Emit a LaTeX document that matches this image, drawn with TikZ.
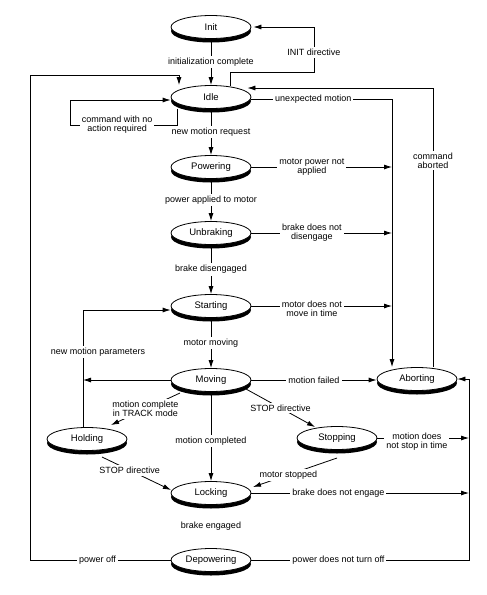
\documentclass[tikz,border=0pt]{standalone}
\usepackage{fontspec}
\setmainfont{Liberation Sans}
\usetikzlibrary{calc,shapes.geometric,shadows,arrows.meta}

\begin{document}
\begin{tikzpicture}[x=1pt,y=-1pt,line width=0.8pt,
    font=\fontsize{9}{9}\selectfont,
    state/.style={ellipse,draw,fill=white,minimum width=80pt,minimum height=23pt,inner sep=0pt,
        font=\fontsize{9.5}{10}\selectfont,
        drop shadow={shadow xshift=0pt,shadow yshift=-4pt,fill=black,opacity=1}},
    lbl/.style={fill=white,inner sep=2pt,align=center},
    arr/.style={-{Latex[length=8pt,width=5pt]}}]
    \useasboundingbox (0,0) rectangle (487,595);
    % Columns
    \def\xa{30}
    \def\xh{83}
    \def\xb{392}
    \def\xc{433}
    \def\xd{469}
    % States
    \node[state] (init) at (211,27) {Init};
    \node[state] (idle) at (211,97) {Idle};
    \node[state] (powering) at (211,167) {Powering};
    \node[state] (unbraking) at (211,233) {Unbraking};
    \node[state] (starting) at (211,306) {Starting};
    \node[state] (moving) at (211,380) {Moving};
    \node[state] (aborting) at (417,379) {Aborting};
    \node[state] (holding) at (87,439) {Holding};
    \node[state] (stopping) at (337,438) {Stopping};
    \node[state] (locking) at (211,493) {Locking};
    \node[state] (depowering) at (211,560) {Depowering};
    % Bend points
    \coordinate (initbend) at (314,72);
    \coordinate (lefttop) at (\xa,75);
    \coordinate (loopbl) at (70,125);
    \coordinate (colb) at (\xb,99);
    \coordinate (colc) at (\xc,88);
    \coordinate (cold) at (\xd,379);
    \coordinate (colh) at (\xh,310);
    % Main chain
    \draw[arr] (init) -- node[lbl]{initialization complete} (idle);
    \draw[arr] (idle) -- node[lbl]{new motion request} (powering);
    \draw[arr] (powering) -- node[lbl]{power applied to motor} (unbraking);
    \draw[arr] (unbraking) -- node[lbl]{brake disengaged} (starting);
    \draw[arr] (starting) -- node[lbl]{motor moving} (moving);
    \draw[arr] (moving) -- node[lbl,pos=0.55]{motion completed} (locking);
    % Back to Init
    \draw[arr,shorten >=2pt] ($(idle.north)+(19,1)$) |- (initbend) |- node[lbl,pos=0.22]{INIT directive} (init.east);
    % Self loop on Idle
    \draw[arr] ($(idle.south)+(-34,0)$) |- node[lbl,pos=0.78]{command with no\\action required} (loopbl) |- ($(idle.west)+(0,3)$);
    % Power off
    \draw[arr] (depowering.west) -| node[lbl,pos=0.26]{power off} (lefttop) -| ($(idle.north)+(-32,0)$);
    % Abort column
    \draw[arr] ($(idle.east)+(0,2)$) -| node[lbl,pos=0.22]{unexpected motion} (aborting.north -| colb);
    \draw[arr] (powering.east) -- node[lbl,pos=0.43]{motor power not\\applied} (powering.east -| colb);
    \draw[arr] (unbraking.east) -- node[lbl,pos=0.43]{brake does not\\disengage} (unbraking.east -| colb);
    \draw[arr] (starting.east) -- node[lbl,pos=0.43,yshift=-3pt]{motor does not\\move in time} (starting.east -| colb);
    \draw[arr] (aborting.north -| colc) |- node[lbl,pos=0.37]{command\\aborted} ($(idle.east)+(-4,-9)$);
    % Moving
    \draw[arr] (moving.east) -- node[lbl]{motion failed} (moving.east -| aborting.west);
    \draw[arr] (moving.west) -- (moving.west -| colh);
    \draw[arr] ($(moving.center)+(-31,13)$) -- node[lbl]{motion complete\\in TRACK mode} ($(holding.center)+(24,-14)$);
    \draw[arr] ($(moving.center)+(35,9)$) -- node[lbl]{STOP directive} ($(stopping.center)+(-22,-11)$);
    % Holding
    \draw[arr] (holding.north -| colh) |- node[lbl,pos=0.32,xshift=15pt]{new motion parameters} ($(starting.west)+(0,4)$);
    \draw[arr] ($(holding.center)+(15,18)$) -- node[lbl,pos=0.4]{STOP directive} ($(locking.center)+(-40,-3)$);
    % Stopping
    \draw[arr] ($(stopping.center)+(0,20)$) -- node[lbl,pos=0.58]{motor stopped} ($(locking.center)+(42,-6)$);
    \draw[arr] (stopping.east) -- node[lbl,pos=0.43,yshift=-4pt]{motion does\\not stop in time} (stopping.east -| cold);
    % Right column
    \draw[arr] (locking.east) -- node[lbl,pos=0.4]{brake does not engage} (locking.east -| cold);
    \draw[arr] (depowering.east) -| node[lbl,pos=0.2]{power does not turn off} (cold) -- (aborting.east);
    % Locking
    \node (engaged) at (211,526) {brake engaged};
\end{tikzpicture}
\end{document}
